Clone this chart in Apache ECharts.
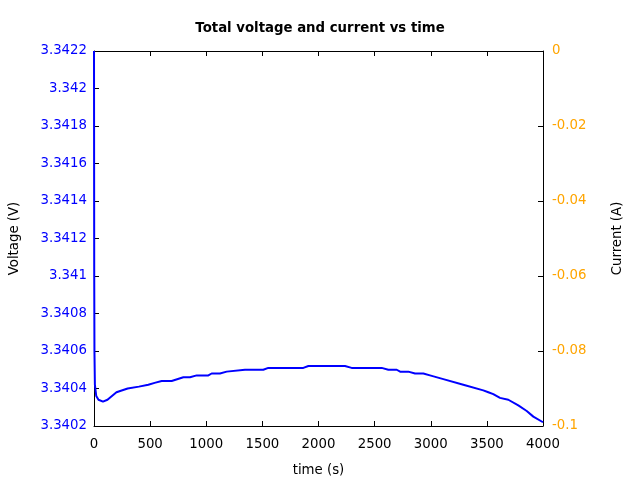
<!DOCTYPE html>
<html><head><meta charset="utf-8">
<script src="https://cdn.jsdelivr.net/npm/echarts@6/dist/echarts.min.js"></script>
<style>html,body{margin:0;padding:0;background:#fff}#c{width:640px;height:480px}</style>
</head><body><div id="c"></div>
<script>
var timeS = [0, 2, 4, 8, 20, 40, 80, 120, 200, 300, 400, 484, 540, 603, 692, 796, 855, 915, 1019, 1048, 1122, 1182, 1345, 1508, 1553, 1865, 1910, 2236, 2295, 2563, 2622, 2697, 2727, 2800, 2860, 2934, 2993, 3112, 3290, 3468, 3513, 3557, 3617, 3691, 3780, 3855, 3914, 4000];
var voltageV = [3.3422, 3.3410, 3.3406, 3.34042, 3.34036, 3.34034, 3.34033, 3.34034, 3.34038, 3.34040, 3.34041, 3.34042, 3.34043, 3.34044, 3.34044, 3.34046, 3.34046, 3.34047, 3.34047, 3.34048, 3.34048, 3.34049, 3.34050, 3.34050, 3.34051, 3.34051, 3.34052, 3.34052, 3.34051, 3.34051, 3.34050, 3.34050, 3.34049, 3.34049, 3.34048, 3.34048, 3.34047, 3.34045, 3.34042, 3.34039, 3.34038, 3.34037, 3.34035, 3.34034, 3.34031, 3.34028, 3.34025, 3.34022];
var leftTicks = {min: 3.3402, max: 3.3422, interval: 0.0002};
var rightTicks = {min: -0.1, max: 0, interval: 0.02};
var xTicks = {min: 0, max: 4000, interval: 500};

var font = 'DejaVu Sans';
var fs = 13.3;
var chart = echarts.init(document.getElementById('c'), null, {renderer: 'canvas'});
var pts = timeS.map(function (t, i) { return [t, voltageV[i]]; });
var tickStyle = {show: true, inside: true, length: 5, lineStyle: {color: '#000'}};
var lineStyle = {show: true, onZero: false, lineStyle: {color: '#000', width: 1}};
chart.setOption({
  animation: false,
  title: {text: 'Total voltage and current vs time', left: 'center', top: 17,
    textStyle: {fontFamily: font, fontSize: fs, fontWeight: 'bold', color: '#000'}},
  grid: {left: 94, right: 97, top: 51, bottom: 54, containLabel: false, outerBoundsMode: 'none'},
  xAxis: [{
    type: 'value', min: xTicks.min, max: xTicks.max, interval: xTicks.interval,
    name: 'time (s)', nameLocation: 'middle', nameGap: 38,
    nameTextStyle: {fontFamily: font, fontSize: fs, color: '#000'},
    axisLine: lineStyle, axisTick: tickStyle, splitLine: {show: false},
    axisLabel: {fontFamily: font, fontSize: fs, color: '#000', margin: 12,
      formatter: function (v) { return String(v); }}
  }, {
    type: 'value', position: 'top', min: xTicks.min, max: xTicks.max, interval: xTicks.interval,
    axisLine: lineStyle, axisTick: tickStyle, splitLine: {show: false}, axisLabel: {show: false}
  }],
  yAxis: [{
    type: 'value', min: leftTicks.min, max: leftTicks.max, interval: leftTicks.interval,
    name: 'Voltage (V)', nameLocation: 'middle', nameGap: 73, nameRotate: 90,
    nameTextStyle: {fontFamily: font, fontSize: fs, color: '#000'},
    axisLine: lineStyle, axisTick: tickStyle, splitLine: {show: false},
    axisLabel: {fontFamily: font, fontSize: fs, color: '#0000ff', margin: 7, padding: [5, 0, 0, 0],
      formatter: function (v) { return String(parseFloat(v.toFixed(4))); }}
  }, {
    type: 'value', position: 'right', min: rightTicks.min, max: rightTicks.max, interval: rightTicks.interval,
    name: 'Current (A)', nameLocation: 'middle', nameGap: 68, nameRotate: 90,
    nameTextStyle: {fontFamily: font, fontSize: fs, color: '#000'},
    axisLine: lineStyle, axisTick: tickStyle, splitLine: {show: false},
    axisLabel: {fontFamily: font, fontSize: fs, color: '#ffa500', margin: 9, padding: [5, 0, 0, 0],
      formatter: function (v) { return String(parseFloat(v.toFixed(2))); }}
  }],
  series: [{
    type: 'line', name: 'Voltage', xAxisIndex: 0, yAxisIndex: 0, data: pts,
    showSymbol: false, smooth: false, lineStyle: {color: '#0000ff', width: 2}
  }]
});
</script></body></html>
